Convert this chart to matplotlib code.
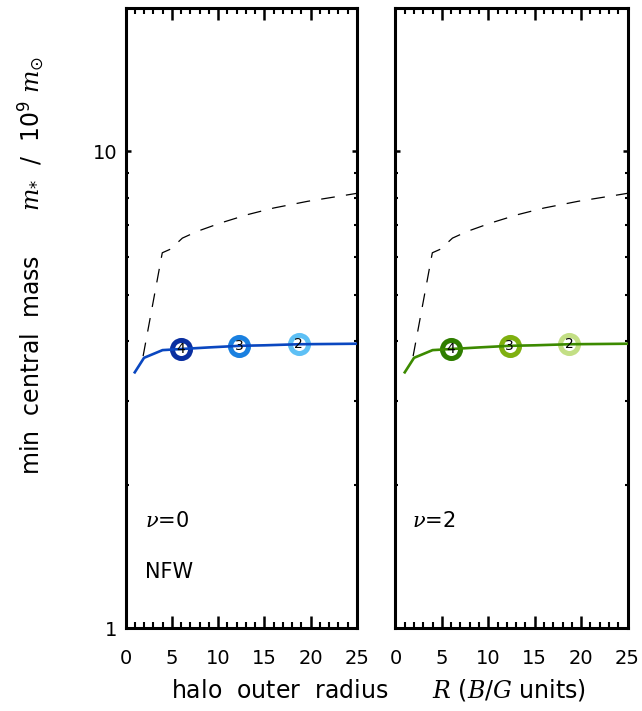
import matplotlib.pyplot as plt
from matplotlib.ticker import FixedLocator, NullFormatter

plt.rcParams['mathtext.fontset'] = 'custom'
plt.rcParams['mathtext.rm'] = 'DejaVu Sans'
plt.rcParams['mathtext.it'] = 'DejaVu Serif:italic'

# min central mass curves (solid) and dashed reference curve
r_solid = [1.0, 2.0, 4.0, 6.0, 9.0, 12.3, 15.0, 18.7, 22.0, 25.0]
m_solid = [3.44, 3.69, 3.83, 3.85, 3.88, 3.91, 3.92, 3.94, 3.945, 3.95]

r_dash = [1.9, 3.97, 4.87, 6.14, 7.76, 10.28, 13.17, 16.0, 19.66, 24.0, 25.0]
m_dash = [3.72, 6.13, 6.24, 6.58, 6.80, 7.08, 7.37, 7.61, 7.86, 8.11, 8.17]

# labelled circles on the curves
mark_r = [6.0, 12.3, 18.7]
mark_m = [3.85, 3.91, 3.94]
mark_lab = ['4', '3', '2']

panels = [
    {'nu': r'$\nu$=0', 'extra': 'NFW', 'line': '#0a47c0', 'tx': 0.084,
     'marks': ['#0a2fa0', '#1a80e0', '#5ec0f5']},
    {'nu': r'$\nu$=2', 'extra': None, 'line': '#3c8a00', 'tx': 0.072,
     'marks': ['#2f7d00', '#7fb010', '#c3df85']},
]

fig = plt.figure(figsize=(6.42, 7.11), dpi=100)
ax_pos = [[0.1955, 0.1167, 0.3606, 0.872], [0.616, 0.1167, 0.3615, 0.872]]

for i, p in enumerate(panels):
    ax = fig.add_axes(ax_pos[i])
    ax.set_yscale('log')
    ax.set_xlim(0, 25)
    ax.set_ylim(1, 20)

    ax.plot(r_dash, m_dash, color='black', lw=0.9, dashes=(11, 9), zorder=2)
    for j in range(len(mark_r)):
        ax.plot(mark_r[j], mark_m[j], 'o', ms=13, mew=3.6, mfc='white',
                mec=p['marks'][j], zorder=3)
    ax.plot(r_solid, m_solid, color=p['line'], lw=1.9, zorder=4)
    for j in range(len(mark_r)):
        ax.text(mark_r[j], mark_m[j], mark_lab[j], ha='center', va='center',
                fontsize=10, color='black', zorder=5)

    ax.text(p['tx'], 0.163, p['nu'], transform=ax.transAxes, fontsize=15)
    if p['extra']:
        ax.text(p['tx'], 0.081, p['extra'], transform=ax.transAxes, fontsize=15)

    for s in ax.spines.values():
        s.set_linewidth(2.2)

    ax.xaxis.set_major_locator(FixedLocator([0, 5, 10, 15, 20, 25]))
    ax.xaxis.set_minor_locator(FixedLocator(range(0, 26)))
    ax.yaxis.set_major_locator(FixedLocator([1, 10]))
    ax.yaxis.set_minor_locator(FixedLocator([2, 3, 4, 5, 6, 7, 8, 9]))
    ax.yaxis.set_minor_formatter(NullFormatter())
    ax.tick_params(axis='x', which='major', direction='in', length=8.5, width=1.8,
                   top=True, labelsize=14, pad=15)
    ax.tick_params(axis='x', which='minor', direction='in', length=4.3, width=1.5,
                   top=True)
    ax.tick_params(axis='y', which='major', direction='in', length=3.6, width=1.8,
                   right=True, labelsize=14, pad=6)
    ax.tick_params(axis='y', which='minor', direction='in', length=2.2, width=1.5,
                   right=True)
    if i == 0:
        ax.set_yticklabels(['1', '10'])
    else:
        ax.set_yticklabels([])

fig.text(0.589, 0.029, r'halo  outer  radius      $R$ ($B/G$ units)', ha='center',
         va='center', fontsize=17)
fig.text(0.047, 0.627, r'min  central  mass      $m_{*}$  /  10$^{9}$ $m_{\odot}$',
         rotation=90, ha='center', va='center', fontsize=17)

fig.savefig('out.png', dpi=100)
